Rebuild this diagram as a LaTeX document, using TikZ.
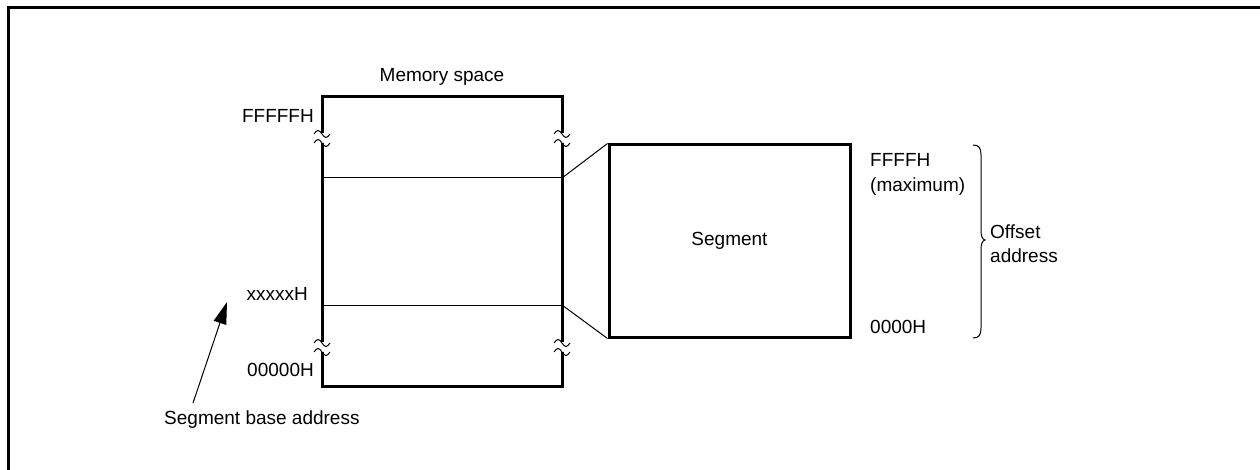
\documentclass[tikz,border=0pt]{standalone}
\usepackage{fontspec}
\setmainfont{Liberation Sans}
\usetikzlibrary{arrows.meta}
\tikzset{
  bigbox/.style={draw, line width=3pt, minimum width=#1},
  thinline/.style={line width=1pt},
  lbl/.style={inner sep=0pt, font=\fontsize{19}{24}\selectfont},
  pics/brk/.style={code={
    \fill[white] (-3.5,-5) rectangle (3.5,5);
    \draw[line width=1pt] (-8,-4) sin (-4,-7.5) cos (0,-4) sin (4,-0.5) cos (8,-4);
    \draw[line width=1pt] (-8,5) sin (-4,1.5) cos (0,5) sin (4,8.5) cos (8,5);
  }}
}
\begin{document}
\begin{tikzpicture}[x=1pt,y=-1pt]
\useasboundingbox (0,0) rectangle (1260,470);
% outer frame
\draw[line width=3pt] (8,475) -- (8,8) -- (1265,8);
% memory box
\node[bigbox=240pt, minimum height=289pt, inner sep=0pt] (mem) at (442,241.5) {};
\coordinate (mtl) at (322,178);
\coordinate (mtr) at (562,178);
\coordinate (mbl) at (322,305);
\coordinate (mbr) at (562,305);
\draw[thinline] (mtl) -- (mtr);
\draw[thinline] (mbl) -- (mbr);
% break marks
\pic at (322,138) {brk};
\pic at (562,138) {brk};
\pic at (322,347) {brk};
\pic at (562,347) {brk};
% segment box
\node[bigbox=241pt, minimum height=192pt, inner sep=0pt, lbl] (seg) at (729.5,241) {Segment};
\draw[thinline] (mtr) -- (seg.north west);
\draw[thinline] (mbr) -- (seg.south west);
% labels
\node[lbl] (ms) at (442,77) {Memory space};
\node[lbl, anchor=east] (ftop) at (314,116) {FFFFFH};
\node[lbl, anchor=east] (xh) at (308,294) {xxxxxH};
\node[lbl, anchor=east] (zh) at (314,370) {00000H};
\node[lbl, anchor=west] (sba) at (164,420) {Segment base address};
\node[lbl, anchor=west] (fh) at (870,160) {FFFFH};
\node[lbl, anchor=west] (mx) at (870,187) {(maximum)};
\node[lbl, anchor=west] (zz) at (870,327) {0000H};
\node[lbl, anchor=west, align=left] (off) at (990,244) {Offset\\address};
% brace
\coordinate (bt) at (973,145);
\coordinate (bc) at (985,240);
\coordinate (bb) at (973,338);
\draw[thinline] (bt) .. controls (979,145) and (981,148) .. (981,155) -- (981,230)
  .. controls (981,236) and (982,239) .. (bc)
  .. controls (982,241) and (981,244) .. (981,250) -- (981,328)
  .. controls (981,335) and (979,338) .. (bb);
% arrow
\coordinate (atail) at (193,403);
\coordinate (ahead) at (227,302);
\draw[thinline, -{Triangle[length=22pt,width=13pt]}] (atail) -- (ahead);
\end{tikzpicture}
\end{document}
